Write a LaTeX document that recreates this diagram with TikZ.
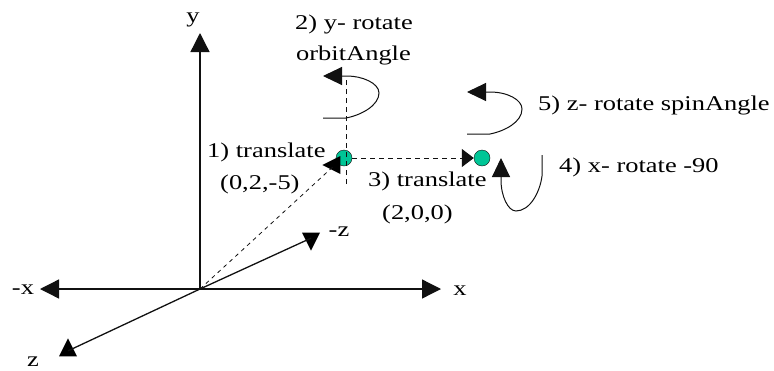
\documentclass[tikz,border=0pt]{standalone}
\usepackage{fontspec}
\setmainfont{Liberation Serif}
\newfontfamily\labelfont[FakeStretch=1.26]{Liberation Serif}
\usepackage{xcolor}
\definecolor{pivotGreen}{HTML}{00C596}
\definecolor{darkLine}{HTML}{111111}
\usetikzlibrary{
    shapes.geometric,
    arrows.meta
}
\tikzset{
    % Axis arrows
    axis/.style={
        -{Triangle[length=19pt, width=19pt]},
        line width=1.3pt,
        draw=darkLine,
    },
    % Dashed arrows of the translate steps
    move/.style={
        dashed,
        dash pattern=on 5pt off 4pt,
        line width=1pt,
        draw=darkLine,
    },
    % Small rotation arcs
    rotation/.style={
        -{Triangle[length=19pt, width=18pt]},
        line width=1pt,
        draw=darkLine,
        rounded corners=0pt,
    },
    % Arrow head that keeps its own direction
    head/.style={
        isosceles triangle,
        isosceles triangle apex angle=60,
        isosceles triangle stretches,
        fill=black,
        inner sep=0pt,
        minimum width=18pt,
        minimum height=18pt,
    },
    % Green point
    pivot/.style={
        circle,
        fill=pivotGreen,
        draw=darkLine,
        line width=0.4pt,
        minimum size=16pt,
        inner sep=0pt,
    },
    % Labels
    label text/.style={
        font=\labelfont\fontsize{21}{24}\selectfont,
        text=black,
        inner sep=0pt,
    },
}
\begin{document}
\begin{tikzpicture}[x=1pt, y=-1pt]
    \useasboundingbox (0,0) rectangle (774,370);

    % axes
    \coordinate (origin) at (200,289);
    \coordinate (ytip) at (200,33);
    \coordinate (xtip) at (441,289);
    \coordinate (mxtip) at (40,289);
    \node (zhead) [head, shape border rotate=90, anchor=apex] at (68,338) {};
    \node (mzhead) [head, shape border rotate=-90, anchor=apex] at (311,251) {};
    \draw [axis] (origin) -- (ytip);
    \draw [axis] (origin) -- (xtip);
    \draw [axis] (origin) -- (mxtip);
    \draw [line width=1.3pt, draw=darkLine] (origin) -- (zhead.center);
    \draw [line width=1.3pt, draw=darkLine] (origin) -- (mzhead.center);

    % points
    \node (planet) [pivot] at (344,158) {};
    \node (moon) [pivot] at (482,158) {};
    \node (planethead) [head, shape border rotate=180, anchor=apex] at (322,165) {};

    % translate steps
    \coordinate (ytop) at (346,78);
    \coordinate (ybottom) at (346,184);
    \draw [move] (ybottom) -- (ytop);
    \draw [move, line width=0.8pt, dash pattern=on 4pt off 4pt] (origin) -- (planethead.center);
    \draw [move, -{Triangle[length=12pt, width=18pt]}] (planet) -- (moon);

    % rotations
    \coordinate (ystart) at (323,118);
    \coordinate (ytip2) at (323,76);
    \coordinate (zstart) at (467,134);
    \coordinate (ztip2) at (467,92);
    \coordinate (xstart) at (542,155);
    \coordinate (xtip2) at (501,158);
    \draw [rotation] (ystart) -- (346,118) .. controls (362,115) and (379,105) .. (379,93) .. controls (379,83) and (362,76) .. (347,76) -- (ytip2);
    \draw [rotation] (zstart) -- (490,134) .. controls (505,131) and (522,122) .. (522,109) .. controls (522,100) and (508,92) .. (490,92) -- (ztip2);
    \draw [rotation] (xstart) -- (542,176) .. controls (540,192) and (530,211) .. (516,211) .. controls (508,211) and (501,196) .. (501,180) -- (xtip2);

    % labels
    \node (ylabel) [label text] at (193,20) {y};
    \node (xlabel) [label text] at (460,291) {x};
    \node (mxlabel) [label text] at (23,290) {-x};
    \node (zlabel) [label text] at (33,362) {z};
    \node (mzlabel) [label text] at (339,232) {-z};
    \node (step1) [label text, anchor=west] at (207,152) {1) translate};
    \node (step1b) [label text, anchor=west] at (220,184) {(0,2,-5)};
    \node (step2) [label text, anchor=west] at (295,24) {2) y- rotate};
    \node (step2b) [label text, anchor=west] at (296,55) {orbitAngle};
    \node (step3) [label text, anchor=west] at (368,181) {3) translate};
    \node (step3b) [label text, anchor=west] at (382,214) {(2,0,0)};
    \node (step4) [label text, anchor=west] at (559,167) {4) x- rotate -90};
    \node (step5) [label text, anchor=west] at (538,105) {5) z- rotate spinAngle};
\end{tikzpicture}
\end{document}
